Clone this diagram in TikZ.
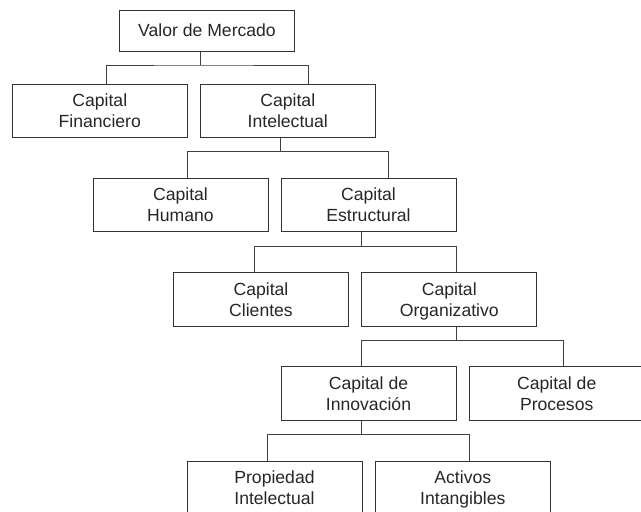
\documentclass[tikz,border=0pt]{standalone}
\usepackage{fontspec}
\setmainfont{Liberation Sans}
\usepackage{tikz}
\usetikzlibrary{positioning}

\begin{document}
\begin{tikzpicture}[x=1pt,y=-1pt,
		caja/.style={draw=black!80,line width=1pt,minimum width=175pt,minimum height=53.5pt,
			inner sep=0pt,align=center,text=black!85,text height=33.6pt,text depth=0pt,
			font=\fontsize{17.6}{21}\selectfont},
		rama/.style={draw=black!75,line width=1pt}]
		\useasboundingbox (0,0) rectangle (641,512);
		\node[caja,minimum height=41pt,text height=12.6pt] (valor) at (207, 30.5) {Valor de Mercado};
		\node[caja] (financiero) at (99.8, 111) {Capital\\Financiero};
		\node[caja] (intelectual) at (287.8, 111) {Capital\\Intelectual};
		\node[caja] (humano) at (180.5, 205) {Capital\\Humano};
		\node[caja] (estructural) at (368.5, 205) {Capital\\Estructural};
		\node[caja] (clientes) at (261, 299.5) {Capital\\Clientes};
		\node[caja] (organizativo) at (449.3, 299.5) {Capital\\Organizativo};
		\node[caja] (innovacion) at (368.5, 393.7) {Capital de\\Innovación};
		\node[caja] (procesos) at (556.7, 393.7) {Capital de\\Procesos};
		\node[caja] (propiedad) at (274.5, 487.8) {Propiedad\\Intelectual};
		\node[caja] (activos) at (462.8, 487.8) {Activos\\Intangibles};
		
		\draw [rama] ([xshift=-6.7pt]valor.south) -- ++(0,-13.5pt);
		\draw [rama] ([xshift=6.6pt]financiero.north) |- ([xshift=-6.7pt,yshift=-13.5pt]valor.south) -| ([xshift=20.4pt]intelectual.north);
		\draw [rama] ([xshift=-7pt]intelectual.south) -- ++(0,-13.5pt);
		\draw [rama] ([xshift=6.7pt]humano.north) |- ([xshift=-7pt,yshift=-13.5pt]intelectual.south) -| ([xshift=20.3pt]estructural.north);
		\draw [rama] ([xshift=-6.7pt]estructural.south) -- ++(0,-14pt);
		\draw [rama] ([xshift=-6.7pt]clientes.north) |- ([xshift=-6.7pt,yshift=-14pt]estructural.south) -| ([xshift=6.9pt]organizativo.north);
		\draw [rama] ([xshift=6.9pt]organizativo.south) -- ++(0,-13.7pt);
		\draw [rama] ([xshift=-6.7pt]innovacion.north) |- ([xshift=6.9pt,yshift=-13.7pt]organizativo.south) -| ([xshift=7pt]procesos.north);
		\draw [rama] ([xshift=-6.7pt]innovacion.south) -- ++(0,-14pt);
		\draw [rama] ([xshift=-7.1pt]propiedad.north) |- ([xshift=-6.7pt,yshift=-14pt]innovacion.south) -| ([xshift=6.5pt]activos.north);
\end{tikzpicture}
\end{document}
